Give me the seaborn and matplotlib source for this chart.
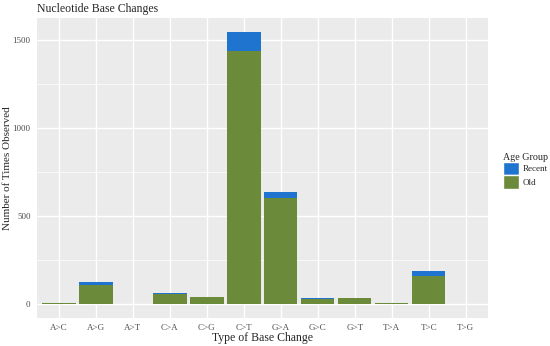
import pandas as pd
import seaborn as sns
import matplotlib.pyplot as plt
from matplotlib.patches import Patch
from matplotlib.ticker import MultipleLocator

changes = ['A>C', 'A>G', 'A>T', 'C>A', 'C>G', 'C>T', 'G>A', 'G>C', 'G>T', 'T>A', 'T>C', 'T>G']
old = [8, 110, 0, 60, 42, 1440, 605, 32, 36, 10, 161, 0]
recent = [0, 15, 0, 4, 2, 110, 35, 2, 2, 0, 30, 0]

df = pd.DataFrame({'change': changes, 'Old': old, 'Recent': recent})
df['total'] = df['Old'] + df['Recent']

green = '#6B8A3A'
blue = '#1F74CF'

sns.set_style('darkgrid', {'axes.facecolor': '#EBEBEB', 'grid.color': 'white'})
plt.rcParams['font.family'] = ['Liberation Serif', 'DejaVu Serif']

fig = plt.figure(figsize=(5.5, 3.46), dpi=100)
ax = fig.add_axes([0.067, 0.081, 0.82, 0.867])

# total first (blue shows as the "Recent" cap), old on top of it
sns.barplot(x='change', y='total', data=df, order=changes, color=blue,
            width=0.9, saturation=1, ax=ax, linewidth=0)
sns.barplot(x='change', y='Old', data=df, order=changes, color=green,
            width=0.9, saturation=1, ax=ax, linewidth=0)

ax.set_xlim(-0.6, 11.6)
ax.set_ylim(-77, 1627)
ax.yaxis.set_major_locator(MultipleLocator(500))
ax.yaxis.set_minor_locator(MultipleLocator(250))
ax.grid(which='major', color='white', linewidth=1.0)
ax.grid(which='minor', axis='y', color='white', linewidth=0.5)
ax.set_axisbelow(True)
for s in ax.spines.values():
    s.set_visible(False)

ax.tick_params(axis='both', which='major', length=3, color='#333333',
               labelsize=6.5, labelcolor='#4D4D4D', pad=1.5)
ax.tick_params(axis='y', which='minor', length=0)

ax.set_xlabel('Type of Base Change', fontsize=8.5, labelpad=0)
ax.set_ylabel('Number of Times Observed', fontsize=8, va='center')
ax.yaxis.set_label_coords(-0.064, 0.5)
ax.set_title('Nucleotide Base Changes', fontsize=8.5, loc='left', x=0, pad=4)

handles = [Patch(facecolor=blue, label='Recent'), Patch(facecolor=green, label='Old')]
leg = ax.legend(handles=handles, title='Age Group', loc='center left',
                bbox_to_anchor=(1.033, 0.49), frameon=False, fontsize=6.5,
                title_fontsize=7.2, handlelength=1.75, handleheight=2.0,
                handletextpad=0.5, labelspacing=0.0, alignment='left',
                borderaxespad=0, borderpad=0)

fig.savefig('out.png', dpi=100)
